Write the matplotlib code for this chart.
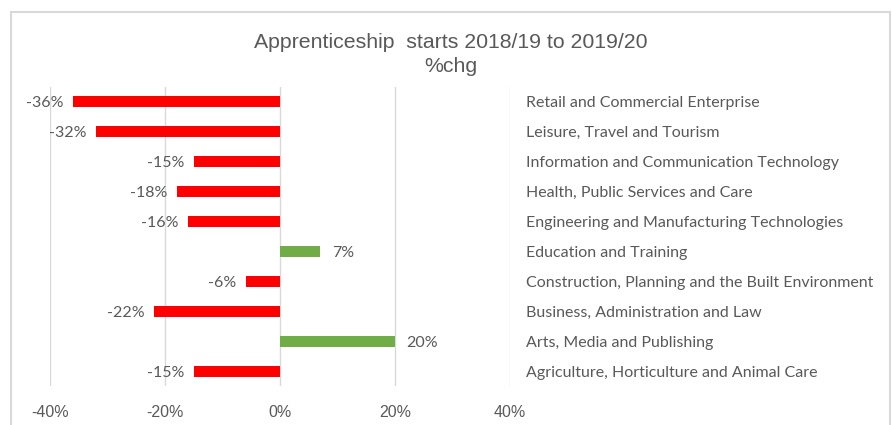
import matplotlib.pyplot as plt
from matplotlib.patches import Rectangle

categories = [
    "Retail and Commercial Enterprise",
    "Leisure, Travel and Tourism",
    "Information and Communication Technology",
    "Health, Public Services and Care",
    "Engineering and Manufacturing Technologies",
    "Education and Training",
    "Construction, Planning and the Built Environment",
    "Business, Administration and Law",
    "Arts, Media and Publishing",
    "Agriculture, Horticulture and Animal Care",
]
pct_change = [-36, -32, -15, -18, -16, 7, -6, -22, 20, -15]
x_ticks = [-40, -20, 0, 20, 40]

narrow = ["Liberation Sans Narrow", "Liberation Sans", "DejaVu Sans"]
body = ["Lato", "DejaVu Sans"]
grey = "#595959"

fig = plt.figure(figsize=(8.92, 4.25), dpi=100)
ax = fig.add_axes([50 / 892, 1 - 386 / 425, 460 / 892, 299 / 425])

colors = ["#70AD47" if v > 0 else "#FF0000" for v in pct_change]
ypos = list(range(len(categories)))
ax.barh(ypos, pct_change, height=0.37, color=colors, zorder=3)

ax.set_xlim(-40, 40)
ax.set_ylim(len(categories) - 0.5, -0.5)
ax.set_xticks(x_ticks)
ax.set_xticklabels([f"{t}%" for t in x_ticks], family=narrow, fontsize=11.5, color=grey)
ax.set_yticks([])
ax.tick_params(axis="x", length=0, pad=14)
ax.grid(axis="x", color="#d9d9d9", linewidth=1, zorder=0)
for s in ax.spines.values():
    s.set_visible(False)

for y, v, cat in zip(ypos, pct_change, categories):
    if v < 0:
        ax.text(v - 1.6, y, f"{v}%", ha="right", va="center_baseline", family=body, fontsize=11.5, color=grey)
    else:
        ax.text(v + 2.0, y, f"{v}%", ha="left", va="center_baseline", family=body, fontsize=11.5, color=grey)
    ax.text(42.8, y, cat, ha="left", va="center_baseline", family=body, fontsize=11.5, color=grey,
            clip_on=False)

fig.text(451 / 892, 1 - 42 / 425, "Apprenticeship  starts 2018/19 to 2019/20", ha="center", va="center",
         family=narrow, fontsize=15.3, color=grey)
fig.text(451 / 892, 1 - 66 / 425, "%chg", ha="center", va="center", family=narrow, fontsize=15.3, color=grey)

fig.patches.append(Rectangle((11 / 892, -0.1), 879 / 892, 1.1 - 12 / 425, transform=fig.transFigure,
                             fill=False, edgecolor="#d9d9d9", linewidth=1.5))

fig.savefig("out.png", dpi=100)
